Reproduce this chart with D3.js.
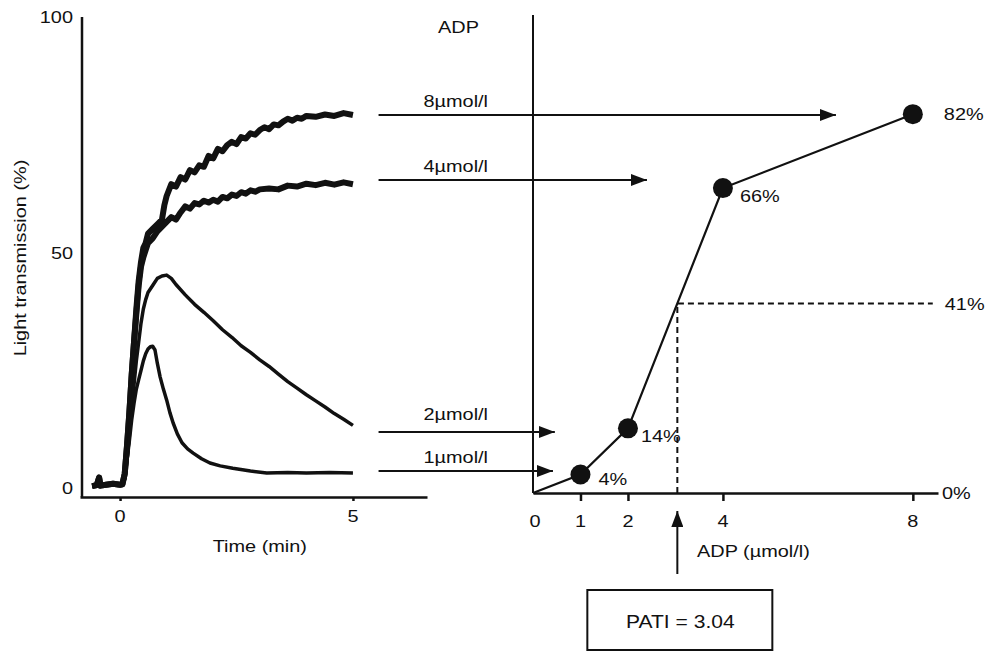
<!DOCTYPE html>
<html>
<head>
<meta charset="utf-8">
<script src="https://cdn.jsdelivr.net/npm/d3@7"></script>
<style>
  body { margin: 0; background: #fff; }
  text { font-family: "Liberation Sans", Arial, sans-serif; fill: #111; }
</style>
</head>
<body>
<div id="chart"></div>
<script>
// traces: [time (min), light transmission (%)]
var base = [[-0.6,0.4],[-0.5,0.6],[-0.45,2.2],[-0.42,0.5],[-0.3,0.7],[-0.15,0.9],[0,0.7],[0.05,0.8]]

var trace8 = base.concat([[0.1,3],[0.15,9],[0.2,16],[0.25,24],[0.3,31],[0.35,38],[0.4,44],[0.45,48],[0.5,51],[0.55,52],[0.6,54],[0.7,55],[0.8,56],[0.9,57],[0.95,60],
  [1.0,62],[1.1,64.5],[1.2,64],[1.3,66],[1.4,65.5],[1.5,67.5],[1.6,67],[1.7,68.5],[1.8,68.2],[1.9,70.5],[2.0,70],[2.1,72],[2.2,71.5],[2.3,72.8],[2.4,73.5],[2.5,73],
  [2.6,74.5],[2.7,74.2],[2.8,75.3],[2.9,75],[3.0,76],[3.1,76.6],[3.2,76.2],[3.3,77.2],[3.4,77],[3.5,77.8],[3.6,78.4],[3.7,78],[3.8,78.6],[3.9,78.4],[4.0,79],
  [4.2,78.8],[4.4,79.3],[4.6,79],[4.8,79.6],[5.0,79.2]])

var trace4 = base.concat([[0.1,3],[0.15,9],[0.2,16],[0.25,24],[0.3,31],[0.35,37],[0.4,43],[0.45,47],[0.5,49],[0.55,50.5],[0.6,52],[0.7,53],[0.8,54.5],[0.9,55.5],
  [1.0,56.5],[1.1,57.5],[1.2,57],[1.3,58.5],[1.4,59.8],[1.5,59.3],[1.6,60.5],[1.7,60.2],[1.8,61],[1.9,60.6],[2.0,61.2],[2.1,60.8],[2.2,61.8],[2.3,61.5],[2.4,62.3],
  [2.5,62],[2.6,62.8],[2.7,62.5],[2.8,63.2],[2.9,62.9],[3.0,63.4],[3.2,63.6],[3.4,63.4],[3.6,64.2],[3.8,64],[4.0,64.6],[4.2,64.3],[4.4,64.8],[4.6,64.4],[4.8,64.9],[5.0,64.5]])

var trace2 = base.concat([[0.1,2],[0.15,6],[0.2,11],[0.25,17],[0.3,22],[0.35,27],[0.4,31],[0.45,35],[0.5,38],[0.55,40],[0.6,41.5],[0.7,43],[0.8,44.5],[0.9,45],[1.0,45.2],
  [1.1,44.5],[1.2,43.2],[1.4,41],[1.6,39],[1.8,37.3],[2.0,35.5],[2.2,33.6],[2.4,32],[2.6,30.2],[2.8,28.8],[3.0,27.2],[3.2,25.8],[3.4,24.2],[3.6,22.6],[3.8,21.2],
  [4.0,19.8],[4.2,18.5],[4.4,17.2],[4.6,15.8],[4.8,14.6],[5.0,13.3]])

var trace1 = base.concat([[0.1,2],[0.15,6],[0.2,10],[0.25,14.5],[0.3,18],[0.35,21],[0.4,23],[0.45,25],[0.5,27],[0.55,28.5],[0.6,29.5],[0.65,30],[0.7,30.1],[0.75,29.3],
  [0.8,26.5],[0.86,23.6],[0.93,21],[1.0,18.7],[1.07,16],[1.14,13.8],[1.23,11.5],[1.33,9.6],[1.45,8.3],[1.57,7.4],[1.75,6.2],[1.93,5.3],[2.15,4.7],[2.42,4.2],
  [2.8,3.6],[3.15,3.2],[3.6,3.3],[4.0,3.2],[4.5,3.3],[5.0,3.2]])

var traces = [trace8, trace4, trace2, trace1]
var doseLabels = ["8\u00b5mol/l", "4\u00b5mol/l", "2\u00b5mol/l", "1\u00b5mol/l"]
var arrowLevel = [79.2, 65.4, 11.9, 3.6]     // % on the left scale
var arrowTip = [6.38, 2.4, 0.46, 0.42]       // ADP units on the right scale

// dose response
var adp = [0, 1, 2, 4, 8]
var response = [0, 4, 14, 66, 82]
var pati = 3.04
var patiLevel = 41

var leftTicks = [0, 50, 100]
var timeTicks = [0, 5]
var adpTicks = [0, 1, 2, 4, 8]

var width = 990, height = 653;

var svg = d3.select("#chart").append("svg")
    .attr("width", width)
    .attr("height", height)

function txt(x, y, s, anchor, size) {
    return svg.append("text")
        .attr("transform", "translate(" + x + "," + y + ") scale(1.17,1)")
        .attr("text-anchor", anchor || "start")
        .style("font-size", (size || 17) + "px")
        .text(s)
}

svg.append("defs").append("marker")
    .attr("id", "head")
    .attr("markerUnits", "userSpaceOnUse")
    .attr("viewBox", "0 0 16 12")
    .attr("refX", 16).attr("refY", 6)
    .attr("markerWidth", 16).attr("markerHeight", 12)
    .attr("orient", "auto")
    .append("path").attr("d", "M0,0L16,6L0,12Z").attr("fill", "#111")

// ---- left panel
var t = d3.scaleLinear().domain([-0.86, 6.59]).range([80, 427])
var v = d3.scaleLinear().domain([0, 100]).range([488, 17])
var axisY = 497

svg.append("g")
    .attr("transform", "translate(0," + axisY + ")")
    .call(d3.axisBottom(t).tickValues(timeTicks).tickSize(4).tickSizeOuter(0).tickFormat(""))
    .call(g => g.selectAll("path,line").attr("stroke", "#111").attr("stroke-width", 2.5))

svg.append("line")
    .attr("x1", 82).attr("x2", 82)
    .attr("y1", v(100)).attr("y2", axisY)
    .attr("stroke", "#111").attr("stroke-width", 2.5)

leftTicks.forEach(d => txt(73, v(d) + 6, d, "end"))
timeTicks.forEach(d => txt(t(d), 522, d, "middle"))
txt(t(3), 552, "Time (min)", "middle")

svg.append("text")
    .attr("transform", "translate(26,258) rotate(-90) scale(1.17,1)")
    .attr("text-anchor", "middle")
    .style("font-size", "17px")
    .text("Light transmission (%)")

var line = d3.line().x(d => t(d[0])).y(d => v(d[1]))

svg.selectAll(".trace")
    .data(traces)
    .enter().append("path")
    .attr("class", "trace")
    .attr("d", line)
    .attr("fill", "none")
    .attr("stroke", "#111")
    .attr("stroke-linejoin", "round")
    .attr("stroke-width", (d, i) => i < 2 ? 6 : 3.5)

// ---- right panel
var x = d3.scaleLinear().domain([0, 8.53]).range([533, 938])
var y = d3.scaleLinear().domain([0, 100]).range([493, 31])

svg.append("g")
    .attr("transform", "translate(0," + y(0) + ")")
    .call(d3.axisBottom(x).tickValues(adpTicks.slice(1)).tickSize(8).tickSizeOuter(0).tickFormat(""))
    .call(g => g.selectAll("path,line").attr("stroke", "#111").attr("stroke-width", 2.5))

svg.append("line")
    .attr("x1", x(0)).attr("x2", x(0))
    .attr("y1", 15).attr("y2", y(0))
    .attr("stroke", "#111").attr("stroke-width", 2)

adpTicks.forEach(d => txt(x(d) + (d == 0 ? 2 : 0), 527, d, "middle"))
txt(697, 557, "ADP (\u00b5mol/l)")
txt(x.range()[1] + 4, y(0) + 6, "0%")
txt(438, 33, "ADP")

// arrows from traces to the dose-response panel
arrowLevel.forEach(function(lv, i) {
    svg.append("line")
        .attr("x1", t(5.55)).attr("x2", x(arrowTip[i]))
        .attr("y1", v(lv)).attr("y2", v(lv))
        .attr("stroke", "#111").attr("stroke-width", 2)
        .attr("marker-end", "url(#head)")
    txt((t(5.55) + x(0)) / 2, v(lv) - (i == 2 ? 12 : 8), doseLabels[i], "middle")
})

// PATI dashed guides
svg.append("path")
    .attr("d", "M" + x(pati) + "," + y(0) + "V" + y(patiLevel) + "H" + x(8.42))
    .attr("fill", "none")
    .attr("stroke", "#111").attr("stroke-width", 2)
    .attr("stroke-dasharray", "6,4")
txt(x(8.42) + 12, y(patiLevel) + 6, patiLevel + "%")

var pts = adp.map((d, i) => [d, response[i]])

svg.append("path")
    .attr("d", d3.line().x(d => x(d[0])).y(d => y(d[1]))(pts))
    .attr("fill", "none")
    .attr("stroke", "#111").attr("stroke-width", 2.2)

svg.selectAll(".dot")
    .data(pts.slice(1))
    .enter().append("circle")
    .attr("class", "dot")
    .attr("cx", d => x(d[0]))
    .attr("cy", d => y(d[1]))
    .attr("r", 10)
    .attr("fill", "#111")

var labOff = [[18, 10], [13, 14], [17, 14], [31, 6]]
pts.slice(1).forEach(function(d, i) {
    txt(x(d[0]) + labOff[i][0], y(d[1]) + labOff[i][1], d[1] + "%")
})

// PATI arrow and box
svg.append("line")
    .attr("x1", x(pati)).attr("x2", x(pati))
    .attr("y1", 574).attr("y2", 511)
    .attr("stroke", "#111").attr("stroke-width", 2)
    .attr("marker-end", "url(#head)")

svg.append("rect")
    .attr("x", x(pati) - 90).attr("y", 590)
    .attr("width", 185).attr("height", 60)
    .attr("fill", "none")
    .attr("stroke", "#111").attr("stroke-width", 2)

txt(x(pati) + 3, 628, "PATI = " + pati.toFixed(2), "middle", 18)
</script>
</body>
</html>
